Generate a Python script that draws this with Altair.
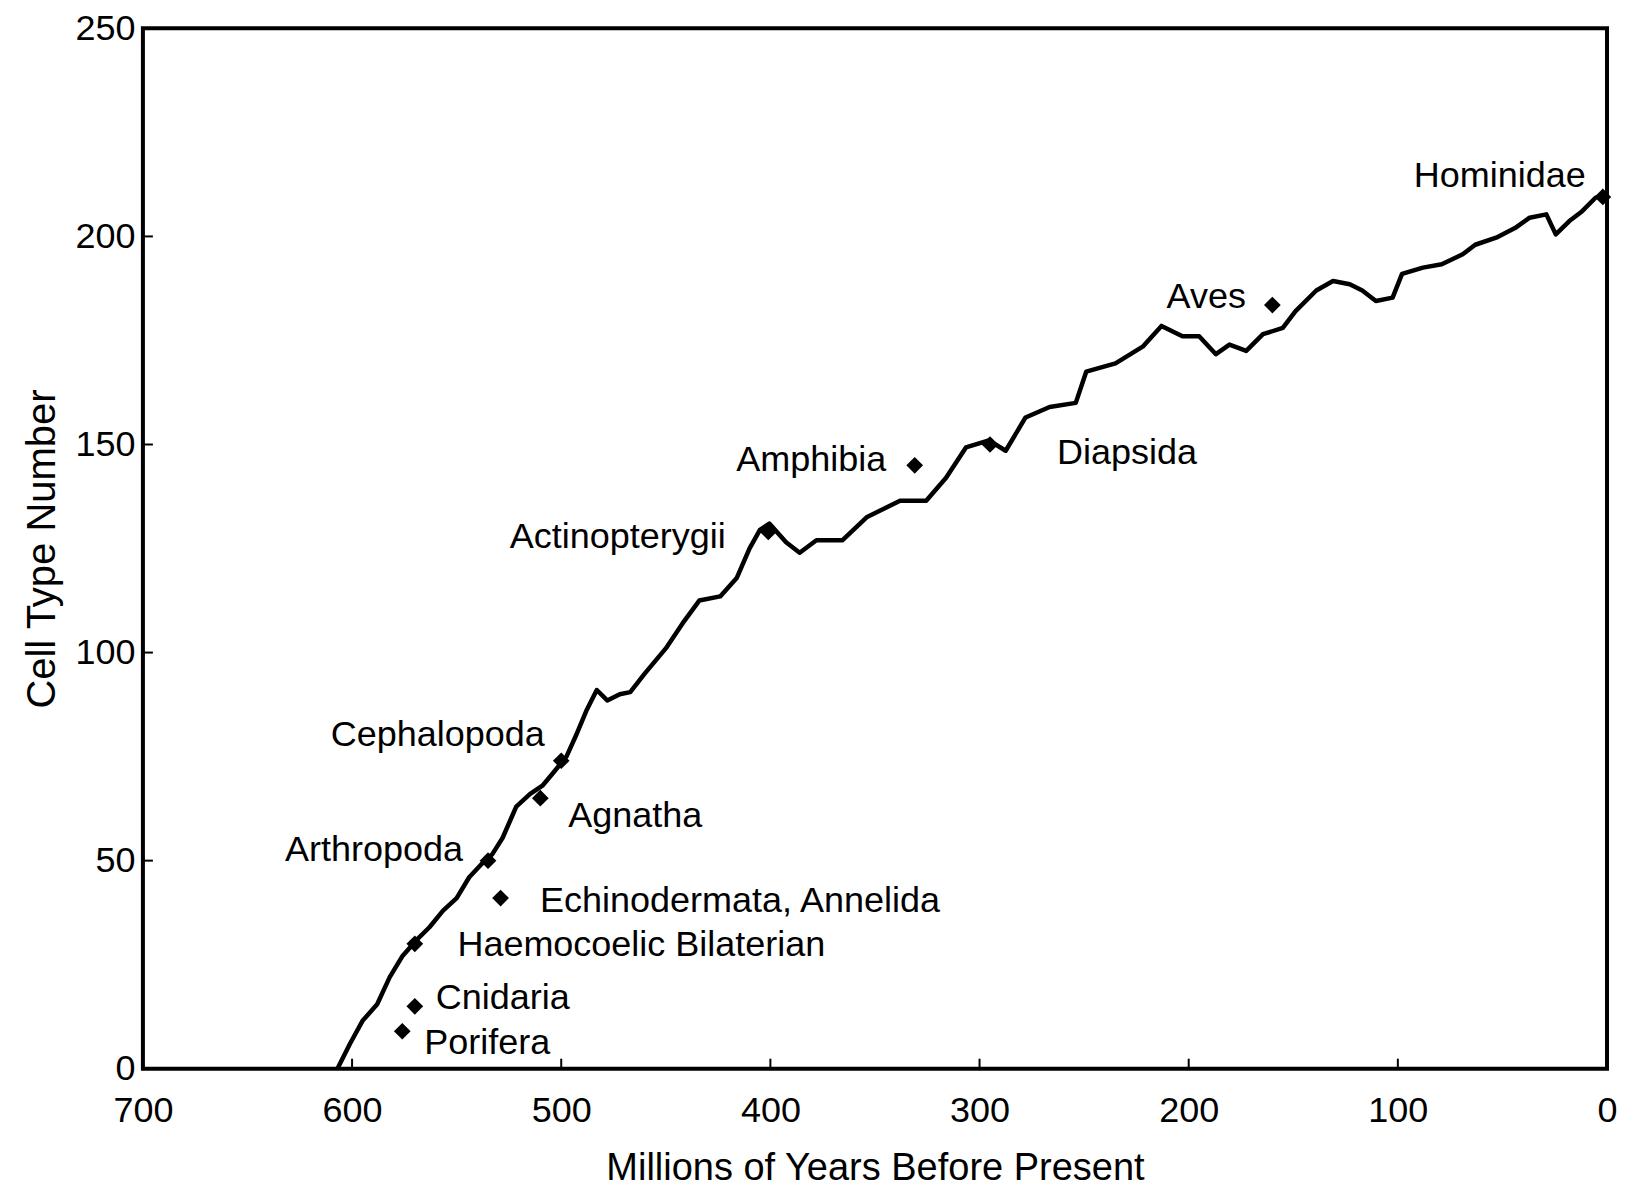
import altair as alt
import pandas as pd

# Main curve: cell type number vs millions of years before present
line_x = [607, 601, 595, 588, 582, 576, 569, 563, 556.5, 550, 544, 537.5, 533, 528,
          521.5, 515, 509, 504, 497.5, 493, 488, 483, 478, 472, 467, 460, 450, 442,
          434, 424, 416, 410, 405, 400.5, 392.5, 386, 378, 365.5, 354, 338, 325.5,
          316, 306.5, 295.5, 287.5, 278, 266.5, 254, 249, 235, 222, 213, 203, 195,
          187, 180.5, 172.5, 164.5, 155, 149, 139, 131, 123, 117, 110.5, 102.5, 98,
          88, 79, 69, 63, 53, 44, 37, 29, 24.5, 18, 12, 5.5, 2]
line_y = [0, 6, 11.5, 15.5, 22, 27, 31, 34, 38, 41, 46, 49.5, 51.5, 55.5,
          63, 66, 68, 71, 75, 80, 86, 91, 88.5, 90, 90.5, 95, 101, 107,
          112.5, 113.5, 118, 125, 129.5, 131, 126.5, 124, 127, 127, 132.5, 136.5, 136.5,
          142, 149.3, 151, 148.5, 156.5, 159, 160, 167.5, 169.5, 173.5, 178.5, 176, 176,
          171.7, 174, 172.5, 176.5, 178, 182, 187, 189.3, 188.5, 187, 184.5, 185.3, 191,
          192.5, 193.3, 195.7, 198, 199.7, 202, 204.5, 205.3, 200.5, 203.7, 206, 209.3, 210]

# Taxa markers
taxa = ["Hominidae", "Aves", "Diapsida", "Amphibia", "Actinopterygii", "Cephalopoda",
        "Agnatha", "Arthropoda", "Echinodermata, Annelida", "Haemocoelic Bilaterian",
        "Cnidaria", "Porifera"]
taxa_x = [2, 160, 295, 331, 401, 500, 510, 535, 529, 570, 570, 576]
taxa_y = [209.5, 183.5, 150, 145, 129, 74, 65, 50, 41, 30, 15, 9]
# Label centres (data units)
label_x = [51.3, 191.6, 229.5, 380.5, 473, 559, 464.6, 589.5, 414.5, 461.7, 528, 535.4]
label_y = [214.5, 185.5, 148, 146.3, 127.7, 80.1, 60.8, 52.6, 40.2, 29.8, 16.9, 6.2]

x_ticks = [0, 100, 200, 300, 400, 500, 600, 700]
y_ticks = [0, 50, 100, 150, 200, 250]
inner_x_ticks = [100, 200, 300, 400, 500, 600]
inner_y_ticks = [50, 100, 150, 200]

W, H = 1465, 1041
FONT = "Liberation Sans"

line_df = pd.DataFrame({"x": line_x, "y": line_y})
taxa_df = pd.DataFrame({"x": taxa_x, "y": taxa_y, "name": taxa})
label_df = pd.DataFrame({"x": label_x, "y": label_y, "name": taxa})
xt_df = pd.DataFrame({"x": inner_x_ticks})
yt_df = pd.DataFrame({"y": inner_y_ticks})

xscale = alt.Scale(domain=[0, 700], reverse=True, nice=False, zero=False)
yscale = alt.Scale(domain=[0, 250], nice=False)
xaxis = alt.Axis(values=x_ticks, title="Millions of Years Before Present",
                 labelPadding=25, titlePadding=21, titleFontSize=38,
                 labelFlush=False, labelOverlap=False)
yaxis = alt.Axis(values=y_ticks, title="Cell Type Number",
                 labelPadding=8, titlePadding=12, labelFlush=False, labelOverlap=False)

X = alt.X("x:Q", scale=xscale, axis=xaxis)
Y = alt.Y("y:Q", scale=yscale, axis=yaxis)

line = alt.Chart(line_df).mark_line(color="black", strokeWidth=4.5,
                                    strokeJoin="round").encode(
    x=X, y=Y, order=alt.Order("x:Q", sort="descending"))

points = alt.Chart(taxa_df).mark_point(shape="diamond", filled=True, color="black",
                                       size=280, opacity=1).encode(x=X, y=Y)

labels = alt.Chart(label_df).mark_text(font=FONT, fontSize=36, color="black",
                                       align="center", baseline="middle").encode(
    x=X, y=Y, text="name:N")

xt = alt.Chart(xt_df).mark_rule(color="black", strokeWidth=2).encode(
    x=X, y=alt.value(H), y2=alt.value(H - 10))
yt = alt.Chart(yt_df).mark_rule(color="black", strokeWidth=2).encode(
    y=Y, x=alt.value(0), x2=alt.value(10))

chart = alt.layer(line, xt, yt, points, labels).properties(
    width=W, height=H,
    autosize=alt.AutoSizeParams(type="none"),
    padding={"left": 135, "top": 20, "right": 12, "bottom": 119},
).configure_view(stroke="black", strokeWidth=4).configure_axis(
    grid=False, domain=False, ticks=False,
    labelFont=FONT, labelFontSize=36, labelColor="black",
    titleFont=FONT, titleFontSize=40, titleFontWeight="normal", titleColor="black",
)

chart.save("out.html", embed_options={"renderer": "svg", "actions": False})
